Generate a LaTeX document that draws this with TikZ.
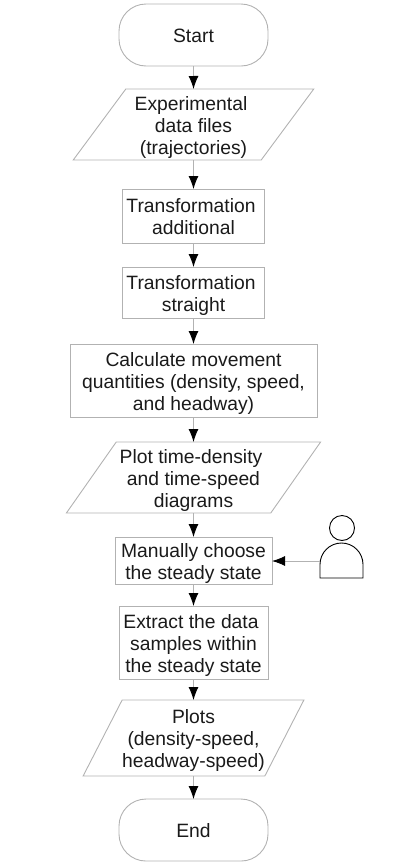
\documentclass[tikz,border=0pt]{standalone}
\usepackage{xcolor}
\usepackage{fontspec}
\setmainfont{Liberation Sans}
\usepackage{tikz}
\usetikzlibrary{arrows.meta,positioning,shapes.geometric}
\definecolor{flowgray}{RGB}{178,178,178}
\definecolor{flowtext}{RGB}{26,26,26}
\newcommand{\topstrut}{\rule{0pt}{20pt}}
\tikzset{
    base/.style={draw=flowgray, line width=0.9pt, inner sep=0pt, outer sep=0pt, align=center, text=flowtext, font=\fontsize{19.3pt}{22pt}\selectfont,
        execute at end node={\rule[-5pt]{0pt}{0pt}}},
    terminal/.style={base, rounded corners=27pt, minimum width=149pt, minimum height=62pt},
    process/.style={base, rectangle},
    dataio/.style={base, trapezium, trapezium stretches=true, trapezium left angle=#1, trapezium right angle=180-#1},
    flow/.style={draw=flowgray, line width=0.9pt, -{Latex[length=13pt,width=10pt,color=black]}}
}

\begin{document}
\begin{tikzpicture}[x=1pt, y=1pt]
    \useasboundingbox (0,0) rectangle (416,-865);
    \node[terminal] (start) at (193.5,-35) {\topstrut Start};
    \node[dataio=56.5, minimum width=241pt, minimum height=71pt, below=23pt of start] (files) {\topstrut Experimental\hspace*{5pt}\\data files\hspace*{5pt}\\(trajectories)};
    \node[process, minimum width=142pt, minimum height=54pt, below=29pt of files] (additional) {\topstrut Transformation\hspace*{5pt}\\additional};
    \node[process, minimum width=142pt, minimum height=51pt, below=24pt of additional] (straight) {\topstrut Transformation\hspace*{5pt}\\straight};
    \node[process, minimum width=247pt, minimum height=73pt, below=26pt of straight] (calc) {\topstrut Calculate movement\\quantities (density, speed,\hspace*{7pt}\\and headway)};
    \node[dataio=55.4, minimum width=255pt, minimum height=71pt, below=25pt of calc] (timeplot) {\topstrut Plot time-density\hspace*{5pt}\\and time-speed\hspace*{5pt}\\diagrams};
    \node[process, minimum width=157pt, minimum height=47pt, below=24pt of timeplot] (choose) {\topstrut Manually choose\\the steady state};
    \node[process, minimum width=149pt, minimum height=73pt, below=22pt of choose] (extract) {\topstrut Extract the data\hspace*{5pt}\\samples within\\the steady state};
    \node[dataio=60.5, minimum width=219pt, minimum height=76pt, below=21pt of extract] (plots) {\topstrut Plots\\(density-speed,\\headway-speed)};
    \node[terminal, below=23pt of plots] (end) {\topstrut End};

    \node[draw=black, circle, line width=0.9pt, minimum size=25pt, inner sep=0pt] (head) at (342,-528) {};
    \draw[black, line width=0.9pt] (320,-564.5) arc[start angle=180, end angle=0, radius=21.5] -- (363,-578) -- (320,-578) -- cycle;
    \coordinate (user) at (320,-561);

    \draw[flow] (start) -- (files);
    \draw[flow] (files) -- (additional);
    \draw[flow] (additional) -- (straight);
    \draw[flow] (straight) -- (calc);
    \draw[flow] (calc) -- (timeplot);
    \draw[flow] (timeplot) -- (choose);
    \draw[flow] (choose) -- (extract);
    \draw[flow] (extract) -- (plots);
    \draw[flow] (plots) -- (end);
    \draw[flow] (user) -- (user -| choose.east);
\end{tikzpicture}
\end{document}
